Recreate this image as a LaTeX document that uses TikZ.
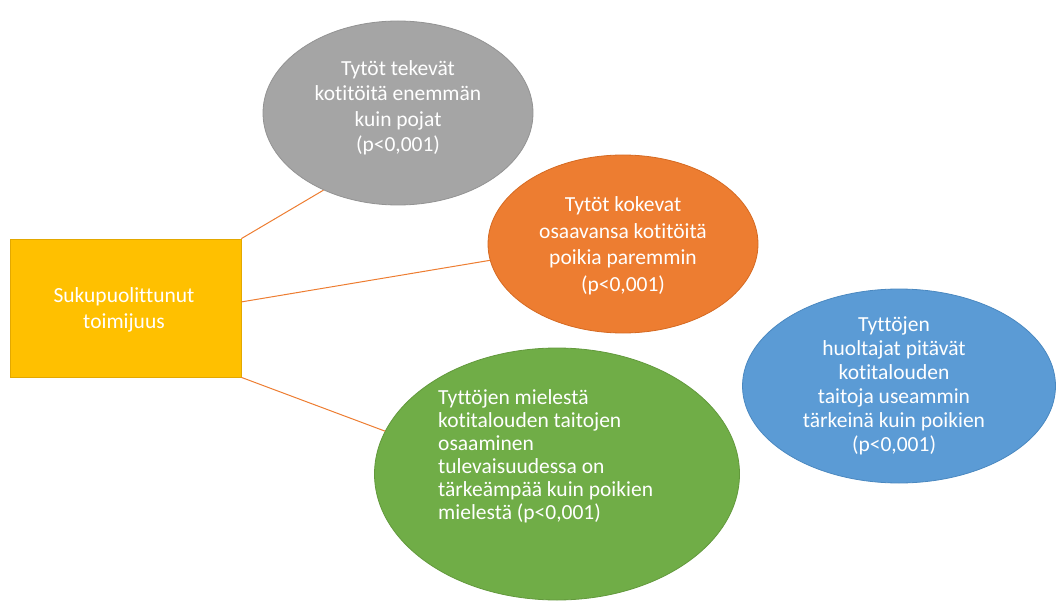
\documentclass[tikz,border=0pt]{standalone}
\usepackage{fontspec}
\setmainfont{Carlito}[Ligatures={NoCommon}]
\usetikzlibrary{shapes.geometric}
\definecolor{cgold}{HTML}{FFC000}
\definecolor{cgoldline}{HTML}{E3A800}
\definecolor{cgray}{HTML}{A5A5A5}
\definecolor{cgrayline}{HTML}{939393}
\definecolor{corange}{HTML}{ED7D31}
\definecolor{corangeline}{HTML}{D56A22}
\definecolor{cblue}{HTML}{5B9BD5}
\definecolor{cblueline}{HTML}{4A88C0}
\definecolor{cgreen}{HTML}{70AD47}
\definecolor{cgreenline}{HTML}{62993C}
\tikzset{
  bubble/.style={ellipse, inner sep=0pt, line width=0.8pt},
  txt/.style={text=white, inner sep=0pt, font=\fontsize{21.5}{25.5}\selectfont},
  link/.style={draw=corange, line width=1pt}
}
\begin{document}
\begin{tikzpicture}[x=1pt,y=-1pt]
\useasboundingbox (0,0) rectangle (1057,604);
% box
\node[draw=cgoldline, fill=cgold, line width=0.8pt, minimum width=231pt, minimum height=138pt, inner sep=0pt] (box) at (125.5,308) {};
\node[txt, align=center] (boxt) at (124,310) {Sukupuolittunut\\toimijuus};
% ellipses
\node[bubble, draw=cgrayline, fill=cgray, minimum width=270pt, minimum height=184pt] (gray) at (398,113) {};
\node[bubble, draw=corangeline, fill=corange, minimum width=270pt, minimum height=178pt] (orange) at (623,244) {};
\node[bubble, draw=cblueline, fill=cblue, minimum width=313pt, minimum height=194pt] (blue) at (899,386) {};
\node[bubble, draw=cgreenline, fill=cgreen, minimum width=365pt, minimum height=252pt] (green) at (557,474) {};
% texts
\node[txt, align=center] (grayt) at (398,108) {Tytöt tekevät\\kotitöitä enemmän\\kuin pojat\\(p<0,001)};
\node[txt, align=center, font=\fontsize{21.5}{26.5}\selectfont] (oranget) at (623,246) {Tytöt kokevat\\osaavansa kotitöitä\\poikia paremmin\\(p<0,001)};
\node[txt, align=center, font=\fontsize{21.5}{24}\selectfont] (bluet) at (894,386) {Tyttöjen\\huoltajat pitävät\\kotitalouden\\taitoja useammin\\tärkeinä kuin poikien\\(p<0,001)};
\node[txt, align=left, font=\fontsize{21.5}{23}\selectfont, anchor=west] (greent) at (438,456) {Tyttöjen mielestä\\kotitalouden taitojen\\osaaminen\\tulevaisuudessa on\\tärkeämpää kuin poikien\\mielestä (p<0,001)};
% connectors
\draw[link] (box.north east) -- (gray.226.5);
\draw[link] (box.3) -- (orange.187.7);
\draw[link] (box.south east) -- (green.166.8);
\end{tikzpicture}
\end{document}
